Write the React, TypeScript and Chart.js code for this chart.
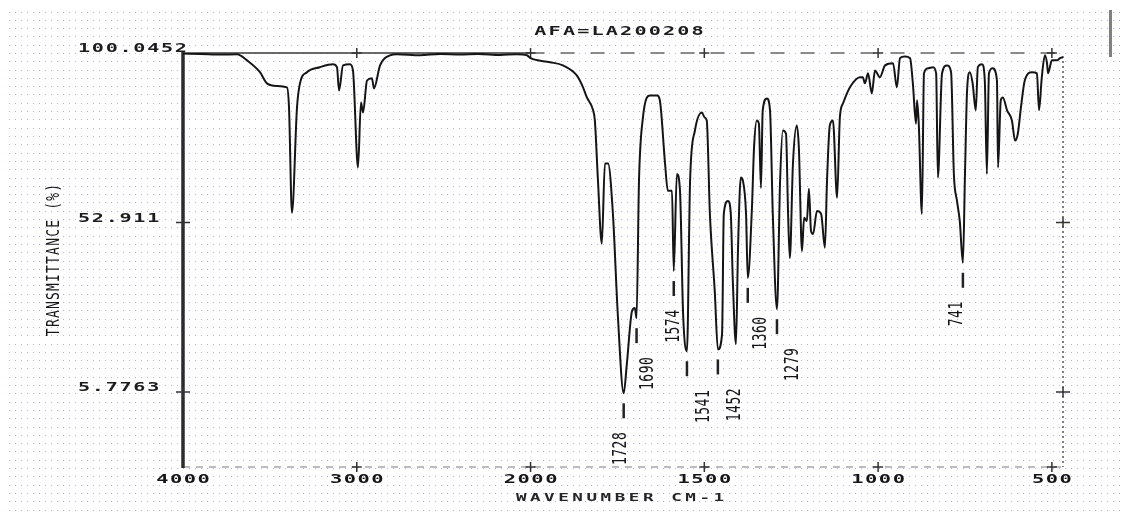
import React, { useEffect, useRef } from "react";
import { Chart, registerables } from "chart.js";

Chart.register(...registerables);

// ---------- data ----------
const WAVENUMBERS = [
  4000, 3900, 3780, 3689, 3632, 3557, 3517, 3460, 3402, 3390, 3373, 3344, 3327, 3287, 3212, 3137,
  3114, 3102, 3079, 3039, 3022, 2993, 2976, 2964, 2941, 2913, 2901, 2866, 2809, 2769, 2636, 2520,
  2406, 2300, 2176, 2080, 2021, 2000, 1944, 1907, 1867, 1849, 1838, 1820, 1815, 1806, 1795, 1786,
  1777, 1763, 1749, 1732, 1723, 1708, 1700, 1695, 1688, 1677, 1656, 1636, 1628, 1613, 1605, 1593,
  1588, 1579, 1570, 1561, 1550, 1541, 1527, 1507, 1499, 1493, 1484, 1470, 1461, 1449, 1444, 1432,
  1424, 1418, 1409, 1403, 1395, 1389, 1380, 1375, 1363, 1357, 1349, 1343, 1337, 1332, 1320, 1311,
  1303, 1291, 1282, 1274, 1265, 1259, 1254, 1245, 1234, 1228, 1219, 1213, 1205, 1199, 1193, 1187,
  1176, 1164, 1153, 1147, 1139, 1130, 1118, 1110, 1101, 1081, 1052, 1044, 1038, 1029, 1018, 1009,
  995, 980, 957, 946, 937, 923, 908, 900, 891, 888, 883, 874, 868, 856, 842, 833,
  828, 816, 802, 790, 782, 773, 765, 756, 750, 744, 736, 728, 719, 713, 701, 693,
  687, 681, 670, 658, 655, 647, 641, 629, 615, 606, 598, 589, 578, 557, 543, 537,
  529, 520, 514, 511, 500, 485, 477, 468,
];

const TRANSMITTANCE = [
  99.9, 99.8, 99.6, 99.7, 98.0, 94.7, 91.6, 90.9, 90.5, 84.9, 55.6, 84.9, 91.6, 94.7, 96.1, 96.9,
  96.1, 89.6, 96.6, 96.9, 95.2, 68.2, 86.3, 83.5, 92.4, 93.0, 90.2, 96.6, 99.4, 99.7, 99.4, 99.8,
  99.6, 99.8, 99.5, 99.7, 99.4, 98.6, 97.5, 96.6, 93.8, 90.5, 87.7, 84.1, 81.3, 64.5, 47.0, 69.3,
  69.3, 55.3, 27.4, 5.4, 13.5, 28.3, 29.1, 26.3, 64.5, 81.8, 88.2, 88.2, 86.9, 69.3, 61.7, 61.7,
  39.4, 66.4, 61.7, 27.3, 17.1, 64.5, 78.5, 83.5, 82.1, 81.3, 55.3, 33.8, 17.6, 21.8, 55.3, 58.9,
  55.6, 36.6, 19.1, 45.9, 65.4, 64.5, 55.3, 37.5, 57.0, 73.7, 81.3, 80.4, 62.5, 84.1, 87.4, 84.1,
  55.3, 28.8, 64.5, 78.5, 77.6, 55.3, 43.0, 69.3, 79.9, 73.7, 45.0, 54.2, 53.3, 62.3, 50.5, 49.7,
  56.1, 55.3, 45.9, 64.5, 79.9, 81.3, 59.8, 82.1, 86.0, 90.5, 93.3, 93.3, 91.6, 94.4, 88.8, 95.2,
  93.3, 96.6, 97.2, 90.5, 98.6, 99.1, 98.6, 91.6, 80.4, 86.9, 80.4, 55.3, 94.4, 95.8, 96.1, 94.4,
  65.4, 94.4, 96.6, 94.7, 66.4, 58.9, 53.3, 41.7, 66.4, 89.6, 94.7, 91.6, 84.1, 96.1, 96.9, 92.4,
  66.4, 94.4, 95.8, 92.4, 68.2, 86.9, 87.7, 84.1, 81.3, 75.7, 77.6, 84.9, 92.4, 94.7, 94.4, 84.1,
  93.3, 99.4, 97.2, 94.4, 98.0, 98.0, 98.6, 98.9,
];

const X_TICKS = [4000, 3000, 2000, 1500, 1000, 500];
const Y_TICKS = [100.0452, 52.911, 5.7763];
const PEAK_LABELS = [1728, 1690, 1574, 1541, 1452, 1360, 1279, 741];

const TITLE = "AFA=LA200208";
const X_TITLE = "WAVENUMBER CM-1";
const Y_TITLE = "TRANSMITTANCE (%)";

const X_START = 4000;
const X_END = 468;
const Y_MIN = -15.1;
const Y_MAX = 100.0452;

// ---------- layout (not data) ----------
const LABEL_DX = [-3, 11, 0, 17, 17, 13, 16, -6];
const MONO = "'DejaVu Sans Mono', 'Liberation Mono', monospace";

// x axis has a scale change at 2000 cm-1 (double expansion below)
const tx = (w: number) => (w >= 2000 ? 4000 - w : 2000 + (2000 - w) * 2);
const itx = (t: number) => (t <= 2000 ? 4000 - t : 2000 - (t - 2000) / 2);

type TextOpts = {
  font: string;
  spacing: number; // local units
  align: "left" | "center" | "right";
  rotate?: boolean;
  sx?: number;
  sy?: number;
  color?: string;
};

function spacedText(ctx: CanvasRenderingContext2D, text: string, x: number, y: number, o: TextOpts) {
  ctx.save();
  ctx.font = o.font;
  (ctx as any).letterSpacing = "0px";
  const w = ctx.measureText(text).width + o.spacing * (text.length - 1);
  (ctx as any).letterSpacing = o.spacing + "px";
  ctx.fillStyle = o.color || "#161616";
  ctx.textAlign = "left";
  ctx.textBaseline = "middle";
  ctx.translate(x, y);
  if (o.rotate) ctx.rotate(-Math.PI / 2);
  ctx.scale(o.sx || 1, o.sy || 1);
  const off = o.align === "center" ? -w / 2 : o.align === "right" ? -w : 0;
  ctx.fillText(text, off, 0);
  ctx.restore();
}

function findPeakIndex(label: number) {
  let best = -1;
  for (let i = 0; i < WAVENUMBERS.length; i++) {
    const w = WAVENUMBERS[i];
    if (w >= label - 5 && w <= label + 20) {
      if (best < 0 || TRANSMITTANCE[i] < TRANSMITTANCE[best]) best = i;
    }
  }
  return best;
}

const backgroundPlugin = {
  id: "dotsBackground",
  beforeDraw(chart: any) {
    const ctx: CanvasRenderingContext2D = chart.ctx;
    ctx.save();
    ctx.fillStyle = "#ffffff";
    ctx.fillRect(0, 0, chart.width, chart.height);
    ctx.fillStyle = "#b4b4e6";
    for (let y = 11.5; y < 512; y += 8.3) {
      for (let x = 9; x < chart.width; x += 6) {
        ctx.fillRect(Math.round(x), Math.round(y), 1, 1);
      }
    }
    ctx.restore();
  },
};

const framePlugin = {
  id: "irFrame",
  beforeDatasetsDraw(chart: any) {
    const ctx: CanvasRenderingContext2D = chart.ctx;
    const { left, right, top, bottom } = chart.chartArea;
    const xs = chart.scales.x;
    const ys = chart.scales.y;
    const x2000 = xs.getPixelForValue(tx(2000));
    ctx.save();
    ctx.lineCap = "butt";
    // top: solid to 2000, dashed beyond
    ctx.strokeStyle = "#3a3a3a";
    ctx.lineWidth = 1.5;
    ctx.beginPath();
    ctx.moveTo(left, top);
    ctx.lineTo(x2000, top);
    ctx.stroke();
    ctx.setLineDash([14, 16]);
    ctx.strokeStyle = "#666";
    ctx.beginPath();
    ctx.moveTo(x2000, top);
    ctx.lineTo(right, top);
    ctx.stroke();
    // bottom dashed
    ctx.setLineDash([7, 6]);
    ctx.strokeStyle = "#a8a8a8";
    ctx.beginPath();
    ctx.moveTo(left, bottom);
    ctx.lineTo(right, bottom);
    ctx.stroke();
    // right dotted
    ctx.setLineDash([2, 3]);
    ctx.strokeStyle = "#555";
    ctx.beginPath();
    ctx.moveTo(right, top + 3);
    ctx.lineTo(right, bottom);
    ctx.stroke();
    ctx.setLineDash([]);
    // left solid thick
    ctx.strokeStyle = "#2c2c2c";
    ctx.lineWidth = 3.5;
    ctx.beginPath();
    ctx.moveTo(left, top - 1);
    ctx.lineTo(left, bottom + 1);
    ctx.stroke();
    // plus marks
    ctx.strokeStyle = "#333";
    ctx.lineWidth = 1.5;
    X_TICKS.slice(1).forEach((w) => {
      const x = xs.getPixelForValue(tx(w));
      [top, bottom].forEach((y) => {
        ctx.beginPath();
        ctx.moveTo(x, y - 5);
        ctx.lineTo(x, y + 5);
        ctx.moveTo(x - 5, y);
        ctx.lineTo(x + 5, y);
        ctx.stroke();
      });
    });
    Y_TICKS.slice(1).forEach((v) => {
      const y = ys.getPixelForValue(v);
      [left, right].forEach((x) => {
        ctx.beginPath();
        ctx.moveTo(x - 7, y);
        ctx.lineTo(x + 7, y);
        ctx.moveTo(x, y - 5);
        ctx.lineTo(x, y + 5);
        ctx.stroke();
      });
    });
    ctx.restore();
  },
};

const annotationPlugin = {
  id: "irText",
  afterDraw(chart: any) {
    const ctx: CanvasRenderingContext2D = chart.ctx;
    const { top, bottom } = chart.chartArea;
    const xs = chart.scales.x;
    const ys = chart.scales.y;

    // tick labels (positions from the library's scales)
    Y_TICKS.forEach((v) => {
      spacedText(ctx, String(v), 78, ys.getPixelForValue(v) - 4, {
        font: `bold 13px ${MONO}`,
        spacing: 1.1,
        align: "left",
        sx: 1.55,
        color: "#1c1c1c",
      });
    });
    X_TICKS.forEach((w) => {
      spacedText(ctx, String(w), xs.getPixelForValue(tx(w)), bottom + 13, {
        font: `bold 12px ${MONO}`,
        spacing: 0.9,
        align: "center",
        sx: 1.7,
        color: "#161616",
      });
    });

    spacedText(ctx, TITLE, 619, 32, {
      font: `bold 13px ${MONO}`,
      spacing: 1.4,
      align: "center",
      sx: 1.55,
      color: "#1c1c1c",
    });
    spacedText(ctx, X_TITLE, 620, bottom + 31, {
      font: `bold 11px ${MONO}`,
      spacing: 2.2,
      align: "center",
      sx: 1.6,
      color: "#262626",
    });
    spacedText(ctx, Y_TITLE, 55, (top + bottom) / 2, {
      font: `13px ${MONO}`,
      spacing: 1.2,
      align: "center",
      rotate: true,
      sy: 1.3,
    });

    // peak markers
    PEAK_LABELS.forEach((lab, i) => {
      const idx = findPeakIndex(lab);
      if (idx < 0) return;
      const x = xs.getPixelForValue(tx(WAVENUMBERS[idx]));
      const y = ys.getPixelForValue(TRANSMITTANCE[idx]);
      ctx.save();
      ctx.strokeStyle = "#222";
      ctx.lineWidth = 2.5;
      ctx.beginPath();
      ctx.moveTo(x, y + 10);
      ctx.lineTo(x, y + 25);
      ctx.stroke();
      ctx.restore();
      spacedText(ctx, String(lab), x + LABEL_DX[i], y + 39, {
        font: `13px ${MONO}`,
        spacing: 0.5,
        align: "right",
        rotate: true,
        sy: 1.5,
      });
    });

    // scan artefact bar at the top right
    ctx.save();
    ctx.fillStyle = "#808080";
    ctx.fillRect(1109, 10, 3, 47);
    ctx.restore();
  },
};

export default function App() {
  const ref = useRef<HTMLCanvasElement>(null);

  useEffect(() => {
    const canvas = ref.current;
    if (!canvas) return;
    const points = WAVENUMBERS.map((w, i) => ({ x: tx(w), y: TRANSMITTANCE[i] }));
    const chart = new Chart(canvas, {
      type: "line",
      data: {
        datasets: [
          {
            data: points,
            borderColor: "#151515",
            borderWidth: 2,
            pointRadius: 0,
            cubicInterpolationMode: "monotone",
            fill: false,
          },
        ],
      },
      options: {
        animation: false,
        responsive: false,
        maintainAspectRatio: false,
        devicePixelRatio: 1,
        layout: { padding: { left: 77, right: 58, top: 53, bottom: 0 } },
        plugins: { legend: { display: false }, tooltip: { enabled: false }, title: { display: false } },
        scales: {
          x: {
            type: "linear",
            min: tx(X_START),
            max: tx(X_END),
            grid: { display: false, drawTicks: false },
            border: { display: false },
            afterFit: (s: any) => {
              s.height = 47;
            },
            afterBuildTicks: (s: any) => {
              s.ticks = X_TICKS.map((w) => ({ value: tx(w) }));
            },
            ticks: {
              display: false,
              autoSkip: false,
              callback: (v: any) => String(Math.round(itx(Number(v)))),
            },
          },
          y: {
            type: "linear",
            min: Y_MIN,
            max: Y_MAX,
            grid: { display: false, drawTicks: false },
            border: { display: false },
            afterFit: (s: any) => {
              s.width = 106;
            },
            afterBuildTicks: (s: any) => {
              s.ticks = Y_TICKS.map((v) => ({ value: v }));
            },
            ticks: {
              display: false,
              autoSkip: false,
              callback: (v: any) => String(v),
            },
          },
        },
      },
      plugins: [backgroundPlugin, framePlugin, annotationPlugin],
    } as any);
    return () => chart.destroy();
  }, []);

  return (
    <div style={{ position: "fixed", left: 0, top: 0, width: 1121, height: 514, background: "#fff" }}>
      <canvas ref={ref} width={1121} height={514} style={{ display: "block", width: 1121, height: 514 }} />
    </div>
  );
}
